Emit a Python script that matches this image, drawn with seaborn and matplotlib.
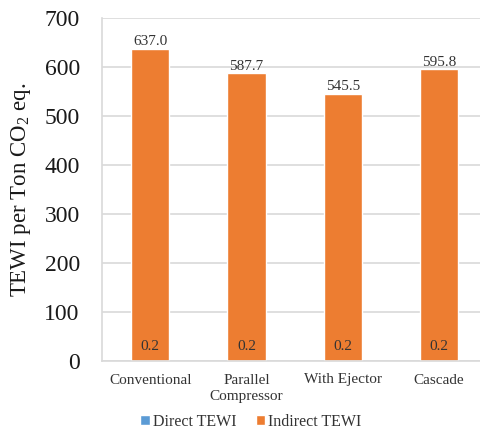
import matplotlib
matplotlib.use("Agg")
import matplotlib.pyplot as plt
from matplotlib.patches import Patch
import seaborn as sns
import pandas as pd

# TEWI breakdown per system configuration
categories = ["Conventional", "Parallel\nCompressor", "With Ejector", "Cascade"]
direct_tewi = [0.2, 0.2, 0.2, 0.2]
indirect_tewi = [637.0, 587.7, 545.5, 595.8]
y_ticks = [0, 100, 200, 300, 400, 500, 600, 700]

direct_color = "#5B9BD5"
indirect_color = "#ED7D31"
text_color = "#333333"
serif = ["Liberation Serif", "DejaVu Serif"]

sns.set_theme(style="white")
plt.rcParams["font.family"] = serif
plt.rcParams["mathtext.fontset"] = "custom"
plt.rcParams["mathtext.rm"] = "Liberation Serif"

df = pd.DataFrame({
    "system": categories,
    "direct": direct_tewi,
    "indirect": indirect_tewi,
})
df["total"] = df["direct"] + df["indirect"]

fig = plt.figure(figsize=(4.8, 4.34), dpi=100)
ax = fig.add_axes([102 / 480, 1 - 361 / 434, 378 / 480, 343 / 434])

# stacked bars: cumulative top first, then the direct segment at the base
sns.barplot(data=df, x="system", y="total", color=indirect_color,
            width=0.4, saturation=1, ax=ax, zorder=2)
sns.barplot(data=df, x="system", y="direct", color=direct_color,
            width=0.4, saturation=1, ax=ax, zorder=3)

ax.set_xlim(-0.5, 3.425)
ax.set_ylim(0, 700)
ax.set_yticks(y_ticks)
ax.set_yticklabels([str(t) for t in y_ticks], fontsize=17, color="#1a1a1a",
                   family=serif)
ax.tick_params(axis="y", length=0, pad=16)
ax.tick_params(axis="x", length=0, pad=9)
ax.set_xticks(range(len(categories)))
ax.set_xticklabels(categories, fontsize=11, color=text_color, family=serif,
                   linespacing=1.35)
ax.set_xlabel("")
ax.set_ylabel(r"TEWI per Ton CO$_\mathregular{2}$ eq.", fontsize=16.5,
              color="#1a1a1a", labelpad=8, family=serif)

ax.yaxis.grid(True, color="#D9D9D9", linewidth=1.2, zorder=0)
ax.set_axisbelow(True)
for side in ["top", "right"]:
    ax.spines[side].set_visible(False)
ax.spines["left"].set_color("#D9D9D9")
ax.spines["bottom"].set_color("#D9D9D9")
ax.spines["left"].set_linewidth(1.2)
ax.spines["bottom"].set_linewidth(1.2)

# value labels
for i, (d, ind) in enumerate(zip(direct_tewi, indirect_tewi)):
    ax.annotate(f"{ind:.1f}", xy=(i, d + ind), xytext=(0, 0.3),
                textcoords="offset points", ha="center", va="bottom",
                fontsize=11, color=text_color, family=serif)
    ax.annotate(f"{d:.1f}", xy=(i, d), xytext=(0, 6),
                textcoords="offset points", ha="center", va="bottom",
                fontsize=11, color=text_color, family=serif)

handles = [Patch(facecolor=direct_color, label="Direct TEWI"),
           Patch(facecolor=indirect_color, label="Indirect TEWI")]
fig.legend(handles=handles, loc="center", bbox_to_anchor=(251 / 480, 1 - 422 / 434),
           ncol=2, frameon=False, prop={"family": serif, "size": 11.5},
           handlelength=0.6, handleheight=0.6, handletextpad=0.2,
           columnspacing=1.2, labelcolor=text_color)

fig.savefig("out.png", dpi=100)
